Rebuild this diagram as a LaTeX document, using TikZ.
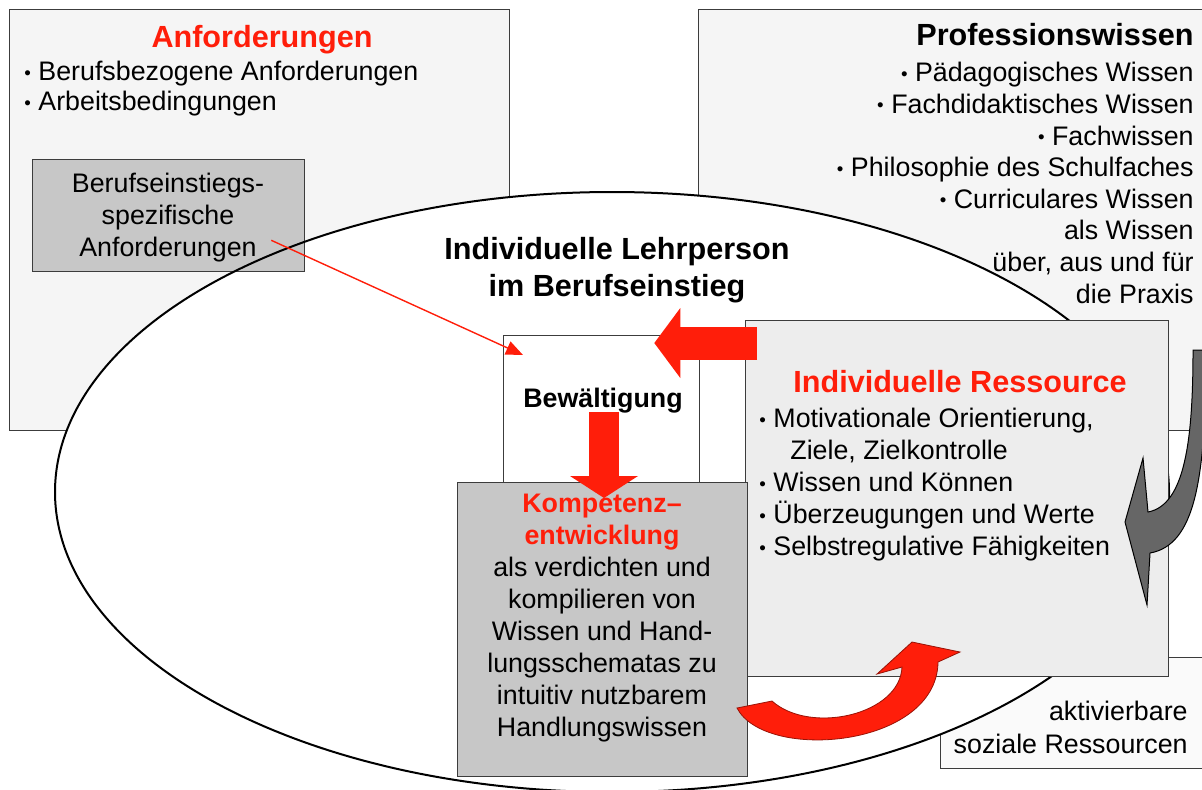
\documentclass[tikz,border=0pt]{standalone}
\usepackage{fontspec}
\usepackage{graphicx}
\setmainfont{Liberation Sans}
\usetikzlibrary{shapes.geometric,arrows.meta,calc}
\definecolor{rot}{RGB}{255,30,10}
\definecolor{randgrau}{RGB}{60,60,60}
\newcommand{\pkt}{\raisebox{0.06em}{\scalebox{0.7}{•}}}
\tikzset{
  panel/.style={draw=randgrau,line width=0.65pt,anchor=north west,inner sep=0pt},
  titel/.style={font=\fontsize{15.3}{18.5}\selectfont\bfseries,inner sep=0pt},
  txt/.style={font=\fontsize{13.4}{15.8}\selectfont,inner sep=0pt},
  blockpfeil/.style={draw=rot,line width=16.5pt}
}
\begin{document}
\begin{tikzpicture}[x=0.5pt,y=-0.5pt]
\useasboundingbox (0,0) rectangle (1202,789);
\fill[white] (0,0) rectangle (1202,789);

% aeussere Rahmen
\node[panel,fill=black!4,minimum width=250pt,minimum height=210.5pt] (anf) at (9,9) {};
\node[panel,fill=black!4,minimum width=258.5pt,minimum height=210.5pt] (prof) at (698,9) {};
\node[panel,fill=black!2,minimum width=137.5pt,minimum height=55.5pt] (soz) at (940,657) {};

% Lehrperson
\node[ellipse,fill=white,inner sep=0pt,minimum width=557pt,minimum height=300pt] (lehrer) at (612,492) {};
\node[panel,fill=black!22,minimum width=136pt,minimum height=56pt] (beruf) at (32,159) {};
\node[ellipse,draw=black,line width=1pt,inner sep=0pt,minimum width=557pt,minimum height=300pt] (lehrerrand) at (612,492) {};

\node[panel,fill=white,minimum width=98pt,minimum height=73.5pt] (bew) at (503,335) {};
\node[panel,fill=black!7,minimum width=211.5pt,minimum height=178pt] (res) at (745,320) {};
\node[panel,fill=black!22,minimum width=145pt,minimum height=147pt] (komp) at (457,482) {};

% Texte
\node[titel,text=rot,anchor=base] (anftitel) at (262,47) {Anforderungen};
\node[txt,font=\fontsize{13.4}{15}\selectfont,anchor=north west,align=left] (anfliste) at (24,61)
  {\pkt\ Berufsbezogene Anforderungen\\\pkt\ Arbeitsbedingungen};
\node[txt,anchor=north,align=center] (berufText) at (168,173)
  {Berufseinstiegs-\\spezifische\\Anforderungen};

\node[titel,anchor=base east] (proftitel) at (1194,45) {Professionswissen};
\node[txt,anchor=north east,align=right] (profliste) at (1194,62)
  {\pkt\ Pädagogisches Wissen\\\pkt\ Fachdidaktisches Wissen\\\pkt\ Fachwissen\\\pkt\ Philosophie des Schulfaches\\
   \pkt\ Curriculares Wissen\\als Wissen\\über, aus und für\\die Praxis};

\node[txt,font=\fontsize{13.4}{16.5}\selectfont,anchor=north east,align=right] (sozText) at (1188,701)
  {aktivierbare\\soziale Ressourcen};

\node[titel,align=center,anchor=north] (lehrerText) at (617,237)
  {Individuelle Lehrperson\\im Berufseinstieg};
\node[txt,font=\fontsize{13.4}{15.8}\selectfont\bfseries,anchor=base] (bewText) at (603,407) {Bewältigung};

\node[titel,text=rot,anchor=base] (restitel) at (960,392) {Individuelle Ressource};
\node[txt,font=\fontsize{13.4}{16}\selectfont,anchor=north west,align=left] (resliste) at (759,408)
  {\pkt\ Motivationale Orientierung,\\\hspace*{15.5pt}Ziele, Zielkontrolle\\\pkt\ Wissen und Können\\
   \pkt\ Überzeugungen und Werte\\\pkt\ Selbstregulative Fähigkeiten};

\node[txt,font=\fontsize{13.4}{16}\selectfont,anchor=north,align=center] (kompText) at (602,494)
  {\textcolor{rot}{\textbf{Kompetenz–}}\\\textcolor{rot}{\textbf{entwicklung}}\\als verdichten und\\
   kompilieren von\\Wissen und Hand-\\lungsschematas zu\\intuitiv nutzbarem\\Handlungswissen};

% Pfeile
\coordinate (bstart) at ($(beruf.south east)+(-34,-32)$);
\coordinate (bziel) at ($(bew.north west)+(20,20)$);
\draw[rot,line width=0.7pt,-{Triangle[length=8.5pt,width=7pt]}] (bstart) -- (bziel);

\draw[blockpfeil,-{Triangle[length=13pt,width=35pt,line width=0pt]}]
  ($(res.north west)+(12,23)$) -- ($(bew.north east)+(-46,8)$);
\draw[rot,line width=15pt,-{Triangle[length=11pt,width=34pt,line width=0pt]}]
  ($(bew.north west)+(101,77)$) -- ($(komp.north west)+(147,16)$);

\filldraw[fill=rot,draw=rot!60!black,line width=0.4pt]
  (737,708) .. controls (765,762) and (937,748) .. (938,662)
  -- (960,652) -- (912,642) -- (877,674) -- (902,667)
  .. controls (900,715) and (810,735) .. (772,701) -- cycle;

\filldraw[fill=black!60,draw=black,line width=0.5pt]
  (1193,350) -- (1206,350) .. controls (1206,480) and (1195,545) .. (1150,553)
  -- (1147,605) -- (1125,522) -- (1143,458) -- (1148,512)
  .. controls (1185,505) and (1193,440) .. (1193,350) -- cycle;
\end{tikzpicture}
\end{document}
